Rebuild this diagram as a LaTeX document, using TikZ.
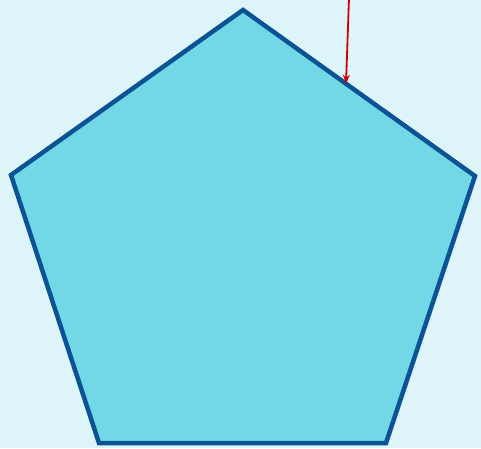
\documentclass[tikz,border=0pt]{standalone}
\usepackage{tikz}
\usetikzlibrary{arrows.meta,calc}
\definecolor{pgsky}{HTML}{DDF4F8}
\definecolor{pgfill}{HTML}{72D8E6}
\definecolor{pgedge}{HTML}{0B5394}
\definecolor{pgred}{HTML}{CC0000}
\begin{document}
\begin{tikzpicture}[x=1pt,y=-1pt,
  pent/.style={draw=pgedge,fill=pgfill,line width=4.5pt,line join=miter},
  ar/.style={-{Stealth[length=9pt,width=7pt]},pgred,line width=1.8pt}]
\fill[pgsky] (0,0) rectangle (481,448);
\useasboundingbox (0,0) rectangle (481,448);
\coordinate (top) at (243,10);
\coordinate (rt) at (475,176);
\coordinate (br) at (386,443);
\coordinate (bl) at (99,443);
\coordinate (lt) at (11,175);
\draw[pent] (top) -- (rt) -- (br) -- (bl) -- (lt) -- cycle;
\coordinate (src) at (349,-2);
\coordinate (hit) at ($(top)!0.444!(rt)$);
\draw[ar] (src) -- (hit);
\end{tikzpicture}
\end{document}
